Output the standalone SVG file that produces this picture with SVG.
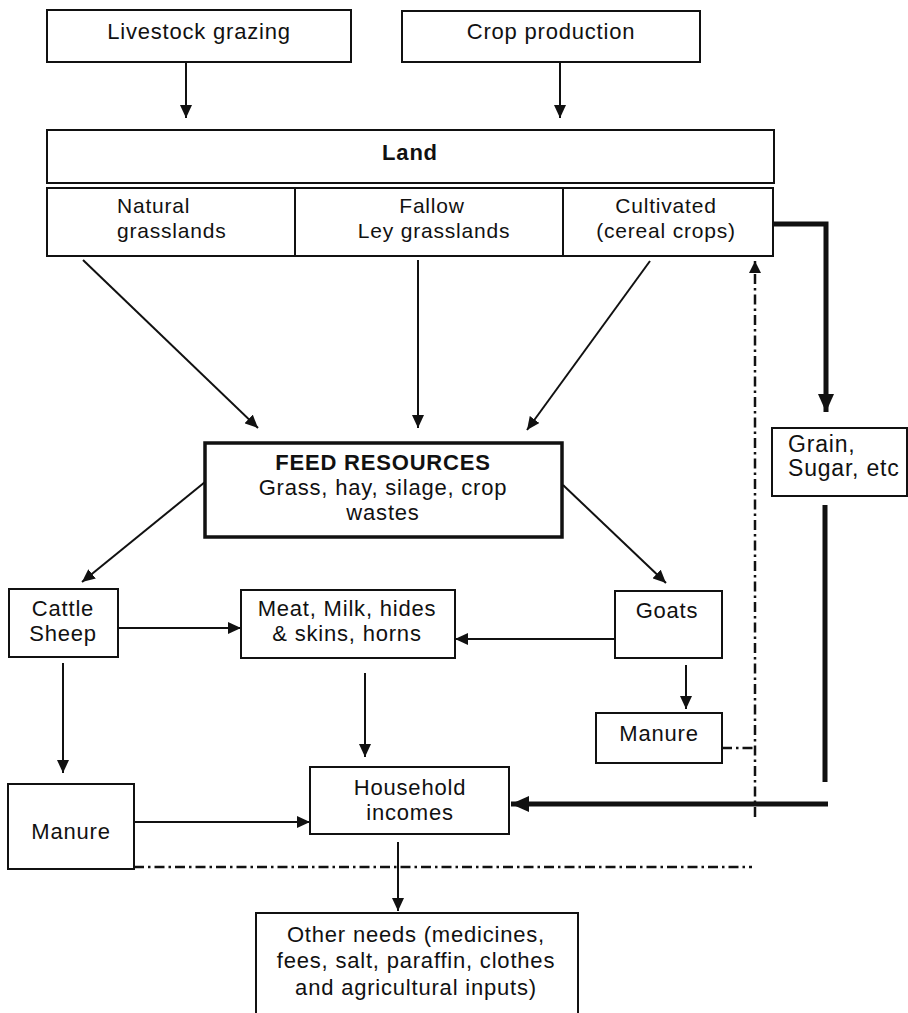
<svg xmlns="http://www.w3.org/2000/svg" width="908" height="1013" viewBox="0 0 908 1013">
<defs>
<style>
.box{fill:#fff;stroke:#111;stroke-width:2}
.thick{fill:#fff;stroke:#111;stroke-width:3.5}
.t{font-family:"Liberation Sans",Arial,sans-serif;font-size:22px;letter-spacing:0.8px;fill:#111;text-anchor:middle}
.s{font-size:21px}
.g{font-size:23px}
.b{font-weight:bold}
.l{text-anchor:start}
.ln{stroke:#111;stroke-width:2;fill:none}
.hv{stroke:#111;stroke-width:5;fill:none}
.dd{stroke:#111;stroke-width:2.5;fill:none;stroke-dasharray:10 4 2.5 4}
</style>
<marker id="a" markerUnits="userSpaceOnUse" markerWidth="13" markerHeight="12" refX="13" refY="6" orient="auto"><path d="M0,0 L13,6 L0,12 z" fill="#111"/></marker>
<marker id="ah" markerUnits="userSpaceOnUse" markerWidth="18" markerHeight="16" refX="18" refY="8" orient="auto"><path d="M0,0 L18,8 L0,16 z" fill="#111"/></marker>
<marker id="ad" markerUnits="userSpaceOnUse" markerWidth="12" markerHeight="12" refX="12" refY="6" orient="auto"><path d="M0,0 L12,6 L0,12 z" fill="#111"/></marker>
</defs>
<rect width="908" height="1013" fill="#fff"/>

<g id="connectors">
<line class="ln" x1="186" y1="63" x2="186" y2="118" marker-end="url(#a)"/>
<line class="ln" x1="560" y1="63" x2="560" y2="118" marker-end="url(#a)"/>
<line class="ln" x1="83" y1="260" x2="258" y2="428" marker-end="url(#a)"/>
<line class="ln" x1="418" y1="260" x2="418" y2="428" marker-end="url(#a)"/>
<line class="ln" x1="650" y1="261" x2="527" y2="430" marker-end="url(#a)"/>
<line class="ln" x1="205" y1="482" x2="82" y2="582" marker-end="url(#a)"/>
<line class="ln" x1="563" y1="485" x2="666" y2="583" marker-end="url(#a)"/>
<line class="ln" x1="118" y1="628" x2="241" y2="628" marker-end="url(#a)"/>
<line class="ln" x1="615" y1="639" x2="455" y2="639" marker-end="url(#a)"/>
<line class="ln" x1="686" y1="665" x2="686" y2="709" marker-end="url(#a)"/>
<line class="ln" x1="63" y1="663" x2="63" y2="773" marker-end="url(#a)"/>
<line class="ln" x1="365" y1="673" x2="365" y2="757" marker-end="url(#a)"/>
<line class="ln" x1="134" y1="822" x2="310" y2="822" marker-end="url(#a)"/>
<line class="ln" x1="398" y1="842" x2="398" y2="911" marker-end="url(#a)"/>
<polyline class="hv" points="773,224 826,224 826,412" marker-end="url(#ah)"/>
<line class="hv" x1="825" y1="505" x2="825" y2="782"/>
<line class="hv" x1="828" y1="804" x2="511" y2="804" marker-end="url(#ah)"/>
<line class="dd" x1="755" y1="817" x2="755" y2="261" marker-end="url(#ad)"/>
<line class="dd" x1="722" y1="748" x2="755" y2="748"/>
<line class="dd" x1="134" y1="867" x2="752" y2="867"/>
</g>

<g id="livestock-grazing"><rect class="box" x="47" y="10" width="304" height="52"/><text class="t" x="199" y="39">Livestock grazing</text></g>
<g id="crop-production"><rect class="box" x="402" y="11" width="298" height="51"/><text class="t" x="551" y="39">Crop production</text></g>
<g id="land"><rect class="box" x="47" y="130" width="727" height="53"/><text class="t b" x="410" y="160">Land</text></g>
<g id="natural-grasslands"><rect class="box" x="47" y="188" width="248" height="68"/><text class="t s l" x="117" y="213">Natural</text><text class="t s l" x="117" y="238">grasslands</text></g>
<g id="fallow-ley"><rect class="box" x="295" y="188" width="268" height="68"/><text class="t s" x="432" y="213">Fallow</text><text class="t s" x="434" y="238">Ley grasslands</text></g>
<g id="cultivated"><rect class="box" x="563" y="188" width="210" height="68"/><text class="t s" x="666" y="213">Cultivated</text><text class="t s" x="666" y="238">(cereal crops)</text></g>
<g id="feed-resources"><rect class="thick" x="205" y="443" width="357" height="94"/><text class="t b" x="383" y="470">FEED RESOURCES</text><text class="t" x="383" y="495">Grass, hay, silage, crop</text><text class="t" x="383" y="520">wastes</text></g>
<g id="grain-sugar"><rect class="box" x="772" y="428" width="135" height="68"/><text class="t g l" x="788" y="452">Grain,</text><text class="t g l" x="788" y="476">Sugar, etc</text></g>
<g id="cattle-sheep"><rect class="box" x="9" y="589" width="109" height="68"/><text class="t" x="63" y="616">Cattle</text><text class="t" x="63" y="641">Sheep</text></g>
<g id="products"><rect class="box" x="241" y="590" width="214" height="68"/><text class="t" x="347" y="616">Meat, Milk, hides</text><text class="t" x="347" y="641">&amp; skins, horns</text></g>
<g id="goats"><rect class="box" x="615" y="591" width="107" height="67"/><text class="t" x="667" y="618">Goats</text></g>
<g id="manure-goats"><rect class="box" x="596" y="713" width="126" height="50"/><text class="t" x="659" y="741">Manure</text></g>
<g id="manure-cattle"><rect class="box" x="8" y="784" width="126" height="85"/><text class="t" x="71" y="839">Manure</text></g>
<g id="household-incomes"><rect class="box" x="310" y="767" width="199" height="67"/><text class="t" x="410" y="795">Household</text><text class="t" x="410" y="820">incomes</text></g>
<g id="other-needs"><rect class="box" x="256" y="913" width="322" height="110"/><text class="t" x="416" y="942">Other needs (medicines,</text><text class="t" x="416" y="968">fees, salt, paraffin, clothes</text><text class="t" x="416" y="995">and agricultural inputs)</text></g>
</svg>
